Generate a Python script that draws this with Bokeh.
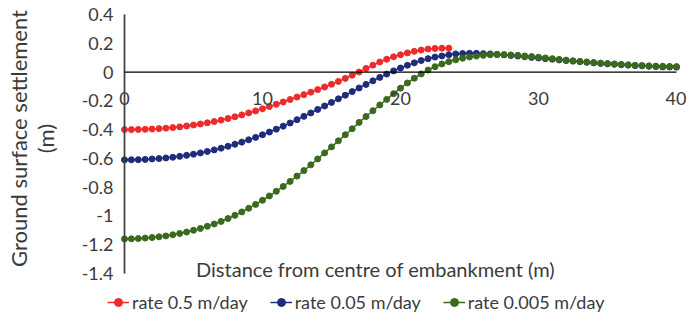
import math
from bokeh.plotting import figure
from bokeh.models import (Range1d, LinearAxis, FixedTicker, CustomJSTickFormatter,
                          Label, Legend, LegendItem)
from bokeh.embed import file_html
from bokeh.resources import INLINE

# ---------------- data ----------------
distance = [0.0, 0.5, 1.0, 1.5, 2.0, 2.5, 3.0, 3.5, 4.0, 4.5,
            5.0, 5.5, 6.0, 6.5, 7.0, 7.5, 8.0, 8.5, 9.0, 9.5,
            10.0, 10.5, 11.0, 11.5, 12.0, 12.5, 13.0, 13.5, 14.0, 14.5,
            15.0, 15.5, 16.0, 16.5, 17.0, 17.5, 18.0, 18.5, 19.0, 19.5,
            20.0, 20.5, 21.0, 21.5, 22.0, 22.5, 23.0, 23.5, 24.0, 24.5,
            25.0, 25.5, 26.0, 26.5, 27.0, 27.5, 28.0, 28.5, 29.0, 29.5,
            30.0, 30.5, 31.0, 31.5, 32.0, 32.5, 33.0, 33.5, 34.0, 34.5,
            35.0, 35.5, 36.0, 36.5, 37.0, 37.5, 38.0, 38.5, 39.0, 39.5,
            40.0]

settle_rate_0_5 = [-0.400, -0.400, -0.399, -0.398, -0.396, -0.393, -0.390, -0.386, -0.381, -0.375,
                   -0.368, -0.361, -0.353, -0.344, -0.334, -0.323, -0.311, -0.298, -0.284, -0.270,
                   -0.255, -0.240, -0.224, -0.208, -0.191, -0.174, -0.157, -0.140, -0.122, -0.104,
                   -0.085, -0.065, -0.044, -0.022, 0.000, 0.025, 0.048, 0.070, 0.089, 0.106,
                   0.120, 0.133, 0.144, 0.153, 0.160, 0.164, 0.166, 0.166]

settle_rate_0_05 = [-0.610, -0.610, -0.609, -0.607, -0.604, -0.601, -0.597, -0.592, -0.586, -0.579,
                    -0.571, -0.562, -0.552, -0.541, -0.529, -0.516, -0.502, -0.487, -0.471, -0.454,
                    -0.436, -0.417, -0.397, -0.376, -0.354, -0.331, -0.308, -0.284, -0.260, -0.236,
                    -0.211, -0.186, -0.161, -0.136, -0.111, -0.086, -0.061, -0.037, -0.014, 0.008,
                    0.028, 0.047, 0.064, 0.080, 0.093, 0.104, 0.112, 0.120, 0.126, 0.129,
                    0.130, 0.130, 0.128, 0.126, 0.123, 0.119, 0.115, 0.111, 0.107, 0.102,
                    0.098, 0.093, 0.089, 0.084, 0.080, 0.076, 0.072, 0.068, 0.064, 0.060,
                    0.057, 0.054, 0.051, 0.048, 0.045, 0.043, 0.040, 0.038, 0.036, 0.035,
                    0.034]

settle_rate_0_005 = [-1.160, -1.159, -1.157, -1.154, -1.150, -1.145, -1.139, -1.131, -1.122, -1.112,
                     -1.100, -1.087, -1.072, -1.056, -1.038, -1.018, -0.996, -0.972, -0.947, -0.920,
                     -0.891, -0.861, -0.829, -0.795, -0.760, -0.723, -0.685, -0.645, -0.604, -0.562,
                     -0.520, -0.478, -0.436, -0.394, -0.350, -0.309, -0.269, -0.229, -0.190, -0.150,
                     -0.112, -0.076, -0.043, -0.013, 0.014, 0.037, 0.056, 0.072, 0.085, 0.096,
                     0.105, 0.111, 0.116, 0.120, 0.121, 0.121, 0.119, 0.116, 0.112, 0.108,
                     0.103, 0.098, 0.093, 0.088, 0.083, 0.078, 0.074, 0.070, 0.066, 0.062,
                     0.059, 0.056, 0.053, 0.050, 0.047, 0.045, 0.043, 0.041, 0.040, 0.039,
                     0.038]

series_labels = ["rate 0.5 m/day", "rate 0.05 m/day", "rate 0.005 m/day"]
x_ticks = [0, 10, 20, 30, 40]
y_ticks = [0.4, 0.2, 0, -0.2, -0.4, -0.6, -0.8, -1, -1.2, -1.4]
x_title = "Distance from centre of embankment (m)"
y_title_lines = ["Ground surface settlement", "(m)"]

# ---------------- style ----------------
FONT = "Lato"
TEXT_COLOR = "#3b3b3b"
COLORS = ["#EE2A2A", "#1F2C7C", "#3B6A1F"]

W, H = 686, 325
# pixel layout: x=0 at 124, x=40 at 676; y=0.4 at 14, y=-1.4 at 273
X0_PX, X40_PX = 124.0, 676.0
YT_PX, YB_PX = 14.0, 273.0
sx = (X40_PX - X0_PX) / (x_ticks[-1] - x_ticks[0])
sy = (YB_PX - YT_PX) / (y_ticks[0] - y_ticks[-1])
x_range = Range1d(x_ticks[0] - X0_PX / sx, x_ticks[-1] + (W - X40_PX) / sx)
y_range = Range1d(y_ticks[-1] - (H - YB_PX) / sy, y_ticks[0] + YT_PX / sy)

p = figure(width=W, height=H, output_backend="svg", toolbar_location=None,
           x_range=x_range, y_range=y_range,
           x_axis_location=None, y_axis_location=None,
           min_border=0, min_border_left=0, min_border_right=0,
           min_border_top=0, min_border_bottom=0)
p.outline_line_color = None
p.grid.grid_line_color = None
p.xgrid.visible = False
p.ygrid.visible = False

yaxis = LinearAxis(fixed_location=0, ticker=FixedTicker(ticks=y_ticks),
                   formatter=CustomJSTickFormatter(code="return String(Math.round(tick*10)/10)"),
                   axis_line_color=None, major_tick_line_color=None, minor_tick_line_color=None,
                   major_tick_in=0, major_tick_out=0, major_label_standoff=11,
                   major_label_text_font=FONT, major_label_text_font_size="18px",
                   major_label_text_color=TEXT_COLOR)
p.add_layout(yaxis, "left")

xaxis = LinearAxis(fixed_location=0, ticker=FixedTicker(ticks=x_ticks),
                   axis_line_color=None, major_tick_line_color=None, minor_tick_line_color=None,
                   major_tick_in=0, major_tick_out=0, major_label_standoff=20,
                   major_label_text_font=FONT, major_label_text_font_size="18px",
                   major_label_text_color=TEXT_COLOR)
p.add_layout(xaxis, "below")

items = []
for ys, col, lab in zip([settle_rate_0_5, settle_rate_0_05, settle_rate_0_005], COLORS, series_labels):
    xs = distance[:len(ys)]
    r_line = p.line(xs, ys, line_color=col, line_width=1.5)
    r_pts = p.scatter(xs, ys, size=6, fill_color=col, line_color=col)
    items.append(LegendItem(label=lab, renderers=[r_line, r_pts]))

# axis lines (Excel-style, crossing at 0)
p.segment(x0=[x_ticks[0]], y0=[y_ticks[-1]], x1=[x_ticks[0]], y1=[y_ticks[0]],
          line_color="#404040", line_width=1.75)
p.segment(x0=[x_ticks[0]], y0=[0], x1=[x_ticks[-1]], y1=[0],
          line_color="black", line_width=1.25)

legend = Legend(items=items, orientation="horizontal", location=(107, 12),
                glyph_width=22, glyph_height=20, label_standoff=3, spacing=22,
                padding=5, margin=0, border_line_color=None, background_fill_alpha=0,
                label_text_font=FONT, label_text_font_size="18px",
                label_text_color=TEXT_COLOR)
p.add_layout(legend)

p.add_layout(Label(x=375, y=H - 268, x_units="screen", y_units="screen", text=x_title,
                   text_align="center", text_baseline="middle", text_font=FONT,
                   text_font_size="20px", text_color=TEXT_COLOR))
p.add_layout(Label(x=18, y=H - 138, x_units="screen", y_units="screen", text=y_title_lines[0],
                   angle=math.pi / 2, text_align="center", text_baseline="middle",
                   text_font=FONT, text_font_size="22px", text_color=TEXT_COLOR))
p.add_layout(Label(x=45, y=H - 138, x_units="screen", y_units="screen", text=y_title_lines[1],
                   angle=math.pi / 2, text_align="center", text_baseline="middle",
                   text_font=FONT, text_font_size="22px", text_color=TEXT_COLOR))

open("out.html", "w").write(file_html(p, INLINE))
